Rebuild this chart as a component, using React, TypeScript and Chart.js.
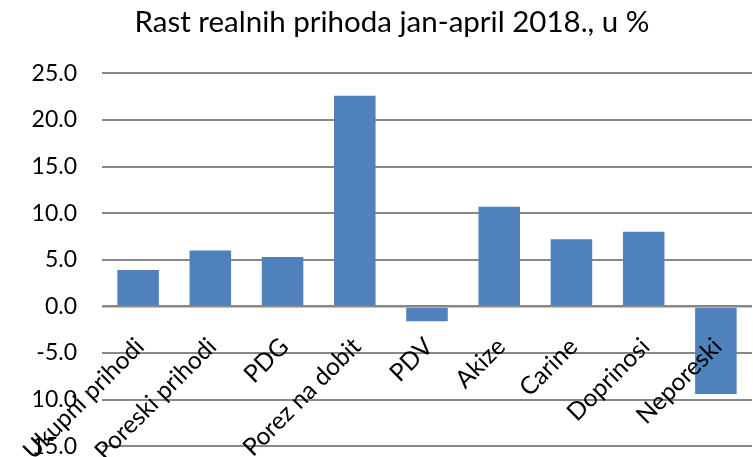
import React, { useEffect, useRef } from "react";
import { Chart, registerables } from "chart.js";

Chart.register(...registerables);

const TITLE = "Rast realnih prihoda jan-april 2018., u %";
const categories = [
  "Ukupni prihodi",
  "Poreski prihodi",
  "PDG",
  "Porez na dobit",
  "PDV",
  "Akize",
  "Carine",
  "Doprinosi",
  "Neporeski",
];
const growth = [3.9, 6.0, 5.3, 22.6, -1.6, 10.7, 7.2, 8.0, -9.4];
const Y_MIN = -15;
const Y_MAX = 25;
const Y_STEP = 5;

const FONT = "Lato, 'Open Sans', sans-serif";
const LABEL_DX = 2;
const LABEL_DY = 36;

const xLabelPlugin = {
  id: "xLabels",
  afterDatasetsDraw(chart: any) {
    const { ctx, scales } = chart;
    const x = scales.x;
    const y = scales.y;
    const y0 = y.getPixelForValue(0);
    ctx.save();
    ctx.font = `24.5px ${FONT}`;
    ctx.fillStyle = "#000000";
    ctx.textAlign = "right";
    ctx.textBaseline = "middle";
    categories.forEach((c, i) => {
      const px = x.getPixelForValue(i);
      ctx.save();
      ctx.translate(px + LABEL_DX, y0 + LABEL_DY);
      ctx.rotate(-Math.PI / 4);
      ctx.fillText(c, 0, 0);
      ctx.restore();
    });
    ctx.restore();
  },
};

export default function App() {
  const ref = useRef<HTMLCanvasElement | null>(null);
  useEffect(() => {
    if (!ref.current) return;
    const chart = new Chart(ref.current, {
      type: "bar",
      data: {
        labels: categories,
        datasets: [
          {
            data: growth,
            backgroundColor: "#4F81BD",
            borderWidth: 0,
            categoryPercentage: 1,
            barPercentage: 0.575,
          },
        ],
      },
      options: {
        responsive: false,
        animation: false,
        layout: { padding: { left: 32, right: 1, top: 0, bottom: 0 } },
        plugins: {
          legend: { display: false },
          tooltip: { enabled: false },
          title: {
            display: true,
            text: TITLE,
            color: "#000000",
            font: { family: FONT, size: 29.5, weight: "normal", lineHeight: 1.2 },
            padding: { top: 5, bottom: 33 },
          },
        },
        scales: {
          x: {
            display: false,
            offset: true,
            grid: { display: false },
          },
          y: {
            min: Y_MIN,
            max: Y_MAX,
            border: { display: false },
            grid: {
              color: "#888888",
              lineWidth: (c: any) => (c.tick && c.tick.value === 0 ? 2.5 : 2),
              drawTicks: false,
            },
            ticks: {
              stepSize: Y_STEP,
              padding: 25,
              color: "#000000",
              font: { family: FONT, size: 23 },
              callback: (v: any) => Number(v).toFixed(1),
            },
            afterFit: (s: any) => {
              s.width = 70;
            },
          },
        },
      },
      plugins: [xLabelPlugin],
    });
    return () => chart.destroy();
  }, []);
  return (
    <canvas
      ref={ref}
      width={753}
      height={485}
      style={{ position: "fixed", left: 0, top: 0, width: 753, height: 485 }}
    />
  );
}
